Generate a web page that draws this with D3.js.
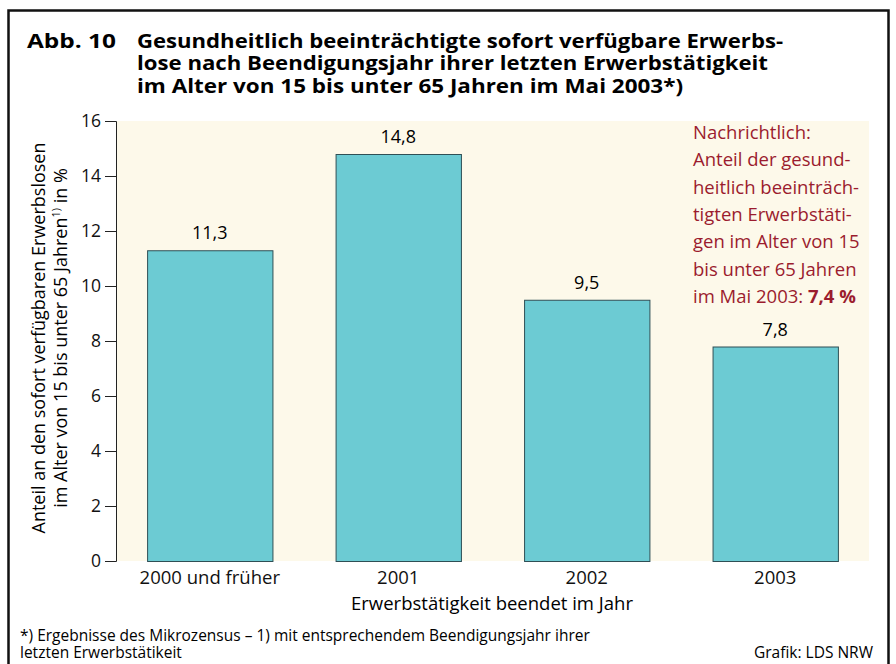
<!DOCTYPE HTML>
<html>
<head>
<meta charset="utf-8">
<style>
    body { margin:0; background:#fff; }
    text { font-family:"Open Sans", "Noto Sans", sans-serif; }
</style>
</head>
<body>
<script src="https://cdn.jsdelivr.net/npm/d3@7/dist/d3.min.js"></script>
<script>
    // values
    var years = ["2000 und früher", "2001", "2002", "2003"];
    var shares = [11.3, 14.8, 9.5, 7.8];
    var yTicks = [0, 2, 4, 6, 8, 10, 12, 14, 16];

    var titleLines = ["Gesundheitlich beeinträchtigte sofort verfügbare Erwerbs-",
                      "lose nach Beendigungsjahr ihrer letzten Erwerbstätigkeit",
                      "im Alter von 15 bis unter 65 Jahren im Mai 2003*)"];
    var noteLines = ["Nachrichtlich:", "Anteil der gesund-", "heitlich beeinträch-",
                     "tigten Erwerbstäti-", "gen im Alter von 15", "bis unter 65 Jahren"];

    var W = 896, H = 664,
        plot = {"x0":116, "x1":869, "y0":121, "y1":561};

    var svg = d3.select("body").append("svg")
            .attr("width", W)
            .attr("height", H);

    // outer frame
    svg.append("rect")
            .attr("x", 8.5).attr("y", 10.5)
            .attr("width", 880).attr("height", 670)
            .attr("fill", "none")
            .attr("stroke", "#111")
            .attr("stroke-width", 2.5);

    // title
    svg.append("text")
            .attr("x", 27).attr("y", 48)
            .attr("font-size", 20).attr("font-weight", "bold")
            .attr("textLength", 89)
            .attr("lengthAdjust", "spacingAndGlyphs")
            .text("Abb. 10");
    svg.append("g").selectAll("text")
            .data(titleLines)
            .enter().append("text")
            .attr("x", 137)
            .attr("y", function(d, i) { return 48 + i * 22.3; })
            .attr("font-size", 20).attr("font-weight", "bold")
            .attr("textLength", function(d, i) { return [646, 631, 546][i]; })
            .attr("lengthAdjust", "spacingAndGlyphs")
            .text(function(d) { return d; });

    var xScale = d3.scaleBand()
            .domain(years)
            .range([plot.x0, plot.x1])
            .paddingInner(0.335)
            .paddingOuter(0.165);

    var yScale = d3.scaleLinear()
            .domain([0, 16])
            .range([plot.y1, plot.y0]);

    // plot background
    svg.append("rect")
            .attr("x", plot.x0).attr("y", plot.y0)
            .attr("width", plot.x1 - plot.x0)
            .attr("height", plot.y1 - plot.y0)
            .attr("fill", "#fdf9ea");

    // bars
    svg.append("g").selectAll("rect")
            .data(shares)
            .enter().append("rect")
            .attr("x", function(d, i) { return xScale(years[i]) + 0.5; })
            .attr("y", function(d) { return yScale(d) + 0.5; })
            .attr("width", xScale.bandwidth())
            .attr("height", function(d) { return yScale(0) - yScale(d); })
            .attr("fill", "#6ccbd3")
            .attr("stroke", "#2f4f55")
            .attr("stroke-width", 1);

    // value labels
    svg.append("g").selectAll("text")
            .data(shares)
            .enter().append("text")
            .attr("x", function(d, i) { return xScale(years[i]) + xScale.bandwidth() / 2; })
            .attr("y", function(d) { return yScale(d) - 11; })
            .attr("text-anchor", "middle")
            .attr("font-size", 18)
            .text(function(d) { return d3.format(".1f")(d).replace(".", ","); });

    // y axis
    var yAxis = d3.axisLeft(yScale)
            .tickValues(yTicks)
            .tickSize(11)
            .tickPadding(4);
    var gy = svg.append("g")
            .attr("transform", "translate(" + plot.x0 + ",0)")
            .call(yAxis);
    gy.select(".domain").attr("stroke", "#222");
    gy.selectAll(".tick line").attr("stroke", "#222");
    gy.selectAll(".tick text")
            .attr("font-size", 17.5)
            .attr("font-family", "'Open Sans', sans-serif")
            .attr("fill", "#111");

    // x axis labels
    var xAxis = d3.axisBottom(xScale).tickSize(0).tickPadding(10);
    var gx = svg.append("g")
            .attr("transform", "translate(0," + plot.y1 + ")")
            .call(xAxis);
    gx.select(".domain").remove();
    gx.selectAll(".tick text")
            .attr("font-size", 18.5)
            .attr("font-family", "'Open Sans', sans-serif")
            .attr("fill", "#111");

    svg.append("text")
            .attr("x", 492).attr("y", 610)
            .attr("text-anchor", "middle")
            .attr("font-size", 18.5)
            .text("Erwerbstätigkeit beendet im Jahr");

    // y axis title, two lines
    var yt = svg.append("g")
            .attr("transform", "translate(0," + 338 + ") rotate(-90)");
    yt.append("text")
            .attr("x", 0).attr("y", 45)
            .attr("text-anchor", "middle")
            .attr("font-size", 18)
            .text("Anteil an den sofort verfügbaren Erwerbslosen");
    var yt2 = yt.append("text")
            .attr("x", 0).attr("y", 67)
            .attr("text-anchor", "middle")
            .attr("font-size", 18);
    yt2.append("tspan").text("im Alter von 15 bis unter 65 Jahren");
    yt2.append("tspan").attr("font-size", 11).attr("dy", -7).text("1)");
    yt2.append("tspan").attr("dy", 7).text(" in %");

    // note in dark red
    var note = svg.append("g").attr("fill", "#9b1c2e");
    note.selectAll("text")
            .data(noteLines)
            .enter().append("text")
            .attr("x", 693)
            .attr("y", function(d, i) { return 139 + i * 27.3; })
            .attr("font-size", 18.5)
            .text(function(d) { return d; });
    var last = note.append("text")
            .attr("x", 693)
            .attr("y", 139 + 6 * 27.3)
            .attr("font-size", 18.5);
    last.append("tspan").text("im Mai 2003: ");
    last.append("tspan").attr("font-weight", "bold").text("7,4 %");

    // footer
    svg.append("text")
            .attr("x", 20).attr("y", 641)
            .attr("font-size", 15.5)
            .text("*) Ergebnisse des Mikrozensus – 1) mit entsprechendem Beendigungsjahr ihrer");
    svg.append("text")
            .attr("x", 20).attr("y", 658)
            .attr("font-size", 15.5)
            .text("letzten Erwerbstätikeit");
    svg.append("text")
            .attr("x", 873).attr("y", 658)
            .attr("text-anchor", "end")
            .attr("font-size", 15.5)
            .text("Grafik: LDS NRW");
</script>
</body>
</html>
